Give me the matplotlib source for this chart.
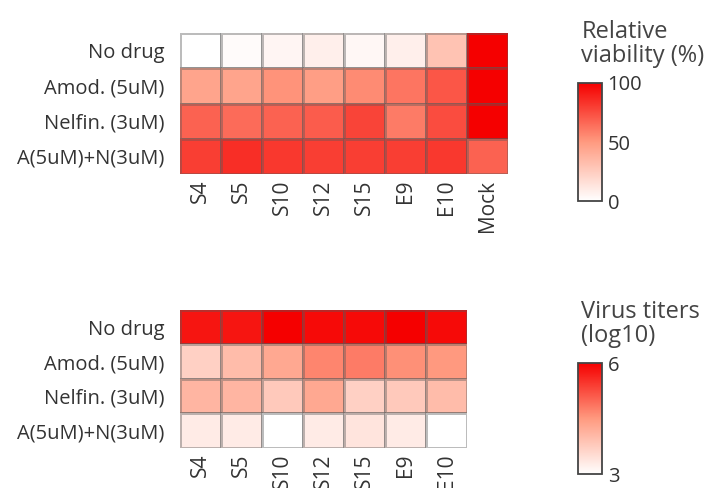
import numpy as np
import matplotlib
matplotlib.use('Agg')
import matplotlib.pyplot as plt
from matplotlib.colors import LinearSegmentedColormap

plt.rcParams['font.family'] = ['Open Sans', 'DejaVu Sans']

# 行标签 / 列标签
drugs = ['No drug', 'Amod. (5uM)', 'Nelfin. (3uM)', 'A(5uM)+N(3uM)']
strains_top = ['S4', 'S5', 'S10', 'S12', 'S15', 'E9', 'E10', 'Mock']
strains_bottom = ['S4', 'S5', 'S10', 'S12', 'S15', 'E9', 'E10']

# 相对存活率 (%)
viability = [
    [0, 2, 5, 8, 4, 8, 30, 100],
    [45, 45, 52, 48, 55, 62, 72, 100],
    [68, 65, 68, 70, 78, 60, 75, 100],
    [80, 85, 82, 80, 80, 80, 82, 68],
]
# 病毒滴度 (log10)
titers = [
    [5.8, 5.8, 6.0, 5.9, 5.9, 6.0, 5.9],
    [3.7, 4.0, 4.3, 4.7, 4.8, 4.6, 4.5],
    [4.1, 4.1, 3.8, 4.3, 3.7, 3.8, 4.0],
    [3.3, 3.3, 3.0, 3.3, 3.4, 3.3, 3.0],
]

cmap = LinearSegmentedColormap.from_list(
    'wr', [(0, '#ffffff'), (0.5, '#ff9a80'), (1, '#f50000')])
txt_color = '#333333'

fig = plt.figure(figsize=(7.15, 4.88), dpi=100)


def draw_heatmap(rect, data, cols, vmin, vmax):
    ax = fig.add_axes(rect)
    arr = np.array(data)
    mesh = ax.pcolormesh(arr, cmap=cmap, vmin=vmin, vmax=vmax,
                         edgecolors=(0.35, 0.35, 0.35, 0.4), linewidth=0.9)
    ax.set_xlim(0, arr.shape[1])
    ax.set_ylim(arr.shape[0], 0)
    ax.set_xticks(np.arange(arr.shape[1]) + 0.5)
    ax.set_xticklabels(cols, rotation=90, fontsize=15, color=txt_color)
    ax.set_yticks(np.arange(arr.shape[0]) + 0.5)
    ax.set_yticklabels(drugs, fontsize=14.5, color=txt_color)
    ax.tick_params(axis='y', length=0, pad=11)
    ax.tick_params(axis='x', length=0, pad=4)
    for s in ax.spines.values():
        s.set_visible(False)
    return mesh


def draw_cbar(rect, mesh, ticks, title, title_y):
    cax = fig.add_axes(rect)
    cb = fig.colorbar(mesh, cax=cax, ticks=ticks)
    cb.outline.set_edgecolor('#444444')
    cb.outline.set_linewidth(1.3)
    cax.tick_params(length=0, pad=4, labelsize=14.5, labelcolor=txt_color)
    fig.text(0.813, title_y, title, fontsize=17, color='#444444',
             ha='left', va='top', linespacing=1.0)


m1 = draw_heatmap([0.2517, 0.6434, 0.4587, 0.289], viability, strains_top, 0, 100)
m2 = draw_heatmap([0.2517, 0.082, 0.4014, 0.2828], titers, strains_bottom, 3, 6)

draw_cbar([0.808, 0.588, 0.034, 0.242], m1, [0, 50, 100], 'Relative\nviability (%)', 0.96)
draw_cbar([0.808, 0.028, 0.034, 0.228], m2, [3, 6], 'Virus titers\n(log10)', 0.385)

fig.savefig('out.png', dpi=100)
